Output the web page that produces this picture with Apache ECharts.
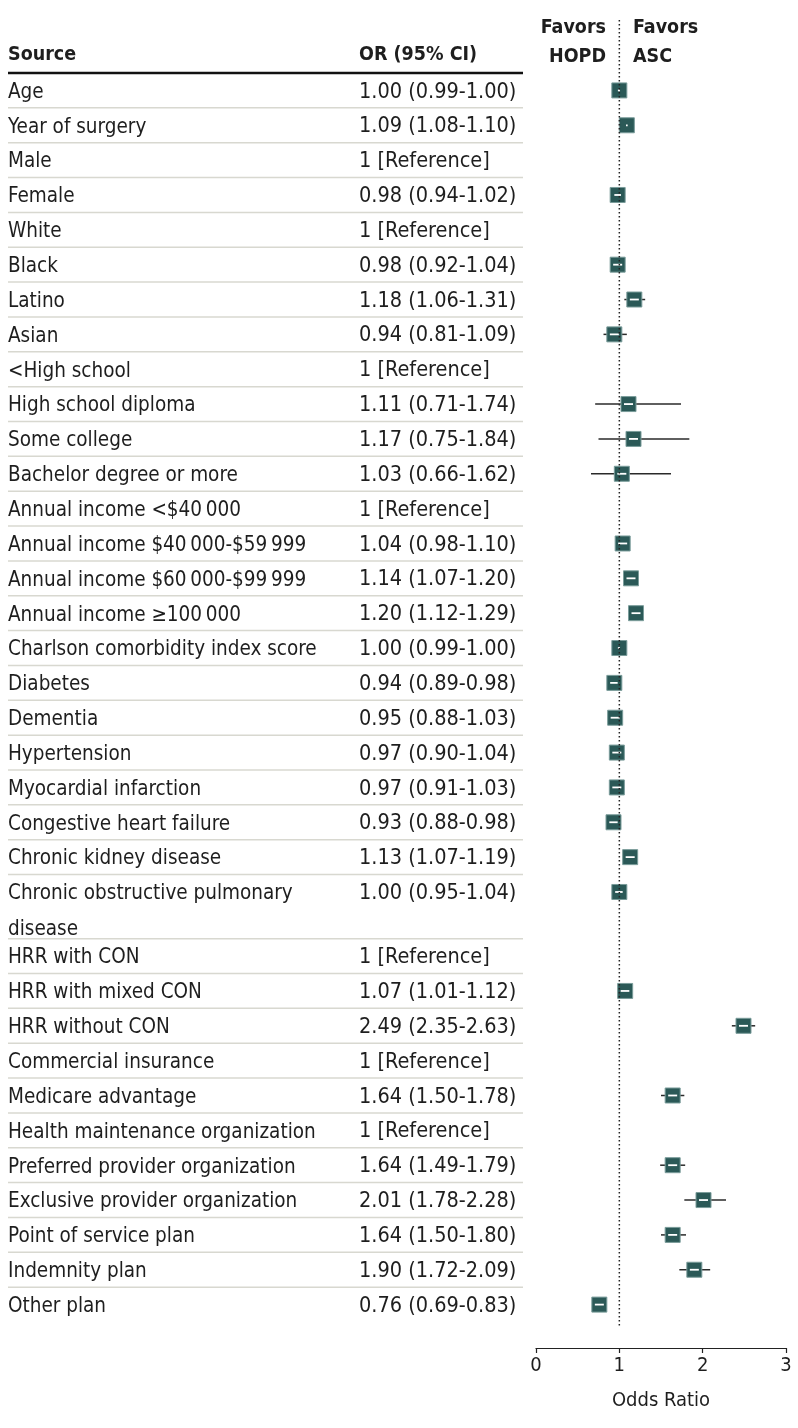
<!DOCTYPE html>
<html>
<head>
<meta charset="utf-8">
<script src="https://cdn.jsdelivr.net/npm/echarts@6/dist/echarts.min.js"></script>
<style>
html,body{margin:0;padding:0;background:#fff;}
#chart{width:798px;height:1428px;}
</style>
</head>
<body>
<div id="chart"></div>
<script>
// ---- data ----
const sources = [
  'Age','Year of surgery','Male','Female','White','Black','Latino','Asian',
  '<High school','High school diploma','Some college','Bachelor degree or more',
  'Annual income <$40\u2009000','Annual income $40\u2009000-$59\u2009999','Annual income $60\u2009000-$99\u2009999','Annual income \u2265100\u2009000',
  'Charlson comorbidity index score','Diabetes','Dementia','Hypertension','Myocardial infarction',
  'Congestive heart failure','Chronic kidney disease','Chronic obstructive pulmonary\ndisease',
  'HRR with CON','HRR with mixed CON','HRR without CON',
  'Commercial insurance','Medicare advantage',
  'Health maintenance organization','Preferred provider organization','Exclusive provider organization',
  'Point of service plan','Indemnity plan','Other plan'
];
const orValues = [1.00,1.09,null,0.98,null,0.98,1.18,0.94,null,1.11,1.17,1.03,null,1.04,1.14,1.20,1.00,0.94,0.95,0.97,0.97,0.93,1.13,1.00,null,1.07,2.49,null,1.64,null,1.64,2.01,1.64,1.90,0.76];
const ciLow   = [0.99,1.08,null,0.94,null,0.92,1.06,0.81,null,0.71,0.75,0.66,null,0.98,1.07,1.12,0.99,0.89,0.88,0.90,0.91,0.88,1.07,0.95,null,1.01,2.35,null,1.50,null,1.49,1.78,1.50,1.72,0.69];
const ciHigh  = [1.00,1.10,null,1.02,null,1.04,1.31,1.09,null,1.74,1.84,1.62,null,1.10,1.20,1.29,1.00,0.98,1.03,1.04,1.03,0.98,1.19,1.04,null,1.12,2.63,null,1.78,null,1.79,2.28,1.80,2.09,0.83];
const xTicks = [0,1,2,3];

// ---- layout helpers (row units) ----
const ROW_PX = 34.85;
const TWO_LINE_ROW = 1.84;
const rowHeights = sources.map(s => s.indexOf('\n') >= 0 ? TWO_LINE_ROW : 1);
const rowTops = [];
let acc = 0;
rowHeights.forEach(h => { rowTops.push(acc); acc += h; });
const totalRows = acc;
const gridTop = 20, gridBottom = 80, headerLineY = 73;
const yMin = -(headerLineY - gridTop) / ROW_PX;
const yMax = yMin + (1428 - gridTop - gridBottom) / ROW_PX;

const orText = orValues.map((v, i) => v === null ? '1 [Reference]' :
  v.toFixed(2) + ' (' + ciLow[i].toFixed(2) + '-' + ciHigh[i].toFixed(2) + ')');

const FONT = '"Liberation Sans Narrow","DejaVu Sans Condensed",sans-serif';
const TEXT_COLOR = '#1e1e1e';
const BOX = '#2b5957';

const tableData = sources.map((s, i) => [0, rowTops[i], rowHeights[i], i]);
const markData = [];
orValues.forEach((v, i) => { if (v !== null) markData.push([v, ciLow[i], ciHigh[i], rowTops[i] + 0.5]); });

const chart = echarts.init(document.getElementById('chart'), null, {renderer: 'canvas'});
chart.setOption({
  animation: false,
  backgroundColor: '#fff',
  grid: {left: 536, right: 12, top: gridTop, bottom: gridBottom},
  xAxis: {
    type: 'value', min: 0, max: 3, interval: 1, position: 'bottom',
    axisLine: {show: true, onZero: false, lineStyle: {color: '#222', width: 1.2}},
    axisTick: {show: true, length: 5, lineStyle: {color: '#222', width: 1.2}},
    axisLabel: {color: TEXT_COLOR, fontSize: 20, fontFamily: FONT, margin: 8,
      formatter: v => xTicks.indexOf(v) >= 0 ? String(v) : ''},
    splitLine: {show: false},
    name: 'Odds Ratio', nameLocation: 'middle', nameGap: 43,
    nameTextStyle: {color: TEXT_COLOR, fontSize: 20, fontFamily: FONT}
  },
  yAxis: {
    type: 'value', inverse: true, min: yMin, max: yMax,
    show: false
  },
  graphic: [
    {type: 'text', left: 8, top: 45, style: {text: 'Source', font: 'bold 19.5px ' + FONT, fill: TEXT_COLOR}},
    {type: 'text', left: 359, top: 45, style: {text: 'OR (95% CI)', font: 'bold 19.5px ' + FONT, fill: TEXT_COLOR}},
    {type: 'line', shape: {x1: 8, y1: headerLineY, x2: 523, y2: headerLineY}, style: {stroke: '#111', lineWidth: 2.5}},
    {type: 'text', x: 606, y: 13, style: {text: 'Favors\nHOPD', font: 'bold 19.5px ' + FONT, fill: TEXT_COLOR, textAlign: 'right', lineHeight: 29}},
    {type: 'text', x: 633, y: 13, style: {text: 'Favors\nASC', font: 'bold 19.5px ' + FONT, fill: TEXT_COLOR, textAlign: 'left', lineHeight: 29}}
  ],
  series: [
    {
      type: 'custom', clip: false, silent: true,
      data: tableData,
      renderItem: function (params, api) {
        const i = api.value(3);
        const top = api.coord([0, api.value(1)])[1];
        const bottom = api.coord([0, api.value(1) + api.value(2)])[1];
        const children = [
          {type: 'text', style: {x: 8, y: top + 1.5, text: sources[i], font: '20.5px ' + FONT, fill: TEXT_COLOR, verticalAlign: 'top', lineHeight: ROW_PX + 1}},
          {type: 'text', style: {x: 359, y: top + 1.5, text: orText[i], font: '21.5px ' + FONT, fill: TEXT_COLOR, verticalAlign: 'top', lineHeight: ROW_PX}}
        ];
        if (i < sources.length - 1) {
          children.push({type: 'line', shape: {x1: 8, y1: bottom, x2: 523, y2: bottom}, style: {stroke: '#d8d8d0', lineWidth: 1.5}});
        }
        return {type: 'group', children: children};
      }
    },
    {
      type: 'line', silent: true, symbol: 'none',
      data: [[1, yMin], [1, totalRows + 0.1]],
      lineStyle: {color: '#222', width: 1.5, type: [1.5, 2.5]}
    },
    {
      type: 'custom', silent: true, clip: false,
      data: markData,
      renderItem: function (params, api) {
        const y = api.value(3);
        const p = api.coord([api.value(0), y]);
        const pl = api.coord([api.value(1), y]);
        const ph = api.coord([api.value(2), y]);
        const s = 15;
        const children = [
          {type: 'line', shape: {x1: pl[0], y1: p[1], x2: ph[0], y2: p[1]}, style: {stroke: '#2a2a2a', lineWidth: 1.5}},
          {type: 'rect', shape: {x: p[0] - s / 2, y: p[1] - s / 2, width: s, height: s}, style: {fill: BOX, stroke: '#7a9c9a', lineWidth: 1}}
        ];
        const ix1 = Math.max(pl[0], p[0] - s / 2 + 3);
        const ix2 = Math.min(ph[0], p[0] + s / 2 - 3);
        if (ix2 - ix1 >= 0) {
          children.push({type: 'line', shape: {x1: ix1 - (ix2 - ix1 < 1 ? 0.6 : 0), y1: p[1], x2: ix2 + (ix2 - ix1 < 1 ? 0.6 : 0), y2: p[1]}, style: {stroke: '#fff', lineWidth: 1.8}});
        }
        return {type: 'group', children: children};
      }
    }
  ]
});
</script>
</body>
</html>
